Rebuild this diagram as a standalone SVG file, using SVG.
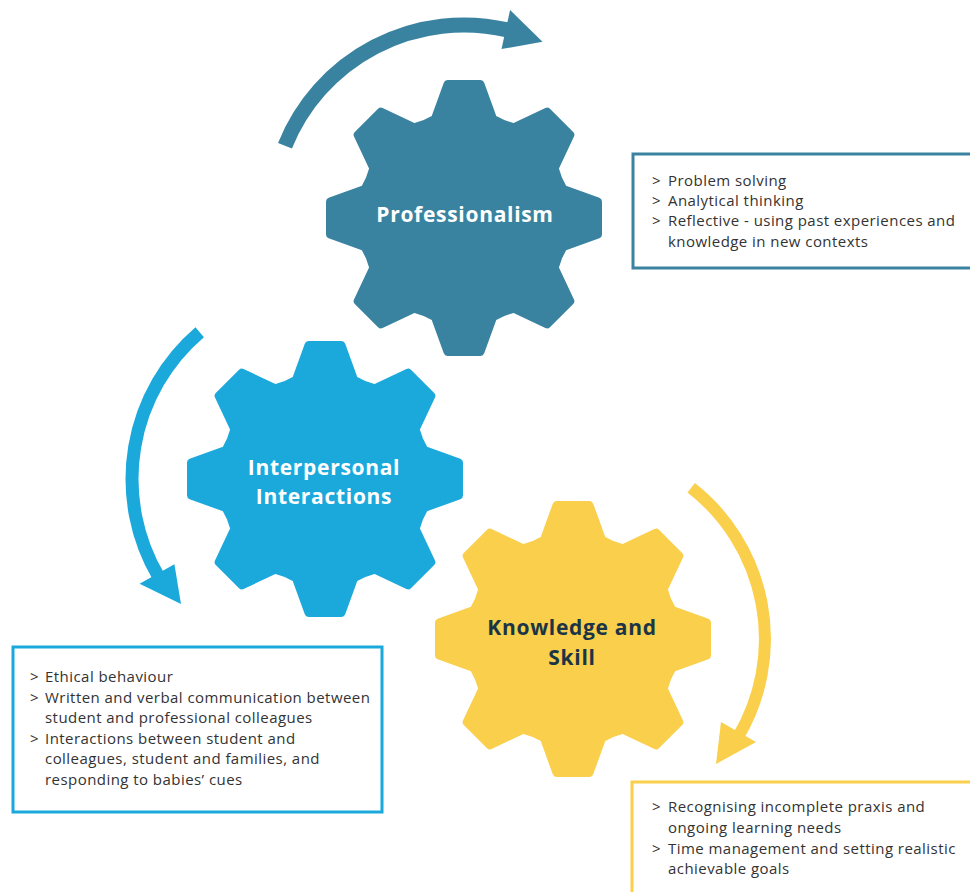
<svg xmlns="http://www.w3.org/2000/svg" xmlns:xlink="http://www.w3.org/1999/xlink" width="970" height="892" viewBox="0 0 970 892">
  <style>
    .gear { stroke-width: 8; stroke-linejoin: round; }
    .prof { fill: #3a83a0; stroke: #3a83a0; }
    .inter { fill: #1ba9dc; stroke: #1ba9dc; }
    .know { fill: #f9cf4b; stroke: #f9cf4b; }
    .label { font-family: "Open Sans", Lato, "Liberation Sans", sans-serif; font-weight: 700; font-size: 21px; letter-spacing: 0.7px; text-anchor: middle; }
    .light { fill: #ffffff; }
    .dark { fill: #1b3446; }
    .box { fill: #ffffff; stroke-width: 3; }
    .item { font-family: "Open Sans", Lato, "Liberation Sans", sans-serif; font-size: 15px; letter-spacing: 0.45px; fill: #333333; }
    .shaft { fill: none; stroke-linecap: butt; }
  </style>
  <defs>
    <!-- eight-tooth gear centred on the origin; the round-joined stroke softens the corners -->
    <path id="gear" d="M -39.03 -94.24 L -28.97 -99.30 L -16.45 -133.99 L 16.45 -133.99 L 28.97 -99.30 L 39.03 -94.24 L 49.73 -90.62 L 83.11 -106.38 L 106.38 -83.11 L 90.62 -49.73 L 94.24 -39.03 L 99.30 -28.97 L 133.99 -16.45 L 133.99 16.45 L 99.30 28.97 L 94.24 39.03 L 90.62 49.73 L 106.38 83.11 L 83.11 106.38 L 49.73 90.62 L 39.03 94.24 L 28.97 99.30 L 16.45 133.99 L -16.45 133.99 L -28.97 99.30 L -39.03 94.24 L -49.73 90.62 L -83.11 106.38 L -106.38 83.11 L -90.62 49.73 L -94.24 39.03 L -99.30 28.97 L -133.99 16.45 L -133.99 -16.45 L -99.30 -28.97 L -94.24 -39.03 L -90.62 -49.73 L -106.38 -83.11 L -83.11 -106.38 L -49.73 -90.62 Z"/>
  </defs>

  <rect x="0" y="0" width="970" height="892" fill="#ffffff"/>

  <!-- curved rotation arrows around each gear -->
  <g id="connectors">
    <path class="shaft" d="M 285.0 145.7 A 193 193 0 0 1 507.4 29.9" stroke="#3a83a0" stroke-width="15"/>
    <polygon points="542.5,41.7 510.1,10.1 501.5,49.1" fill="#3a83a0"/>

    <path class="shaft" d="M 199.7 332.2 A 193 193 0 0 0 158.7 576.9" stroke="#1ba9dc" stroke-width="13"/>
    <polygon points="181,604 139.6,583.8 174.4,564.2" fill="#1ba9dc"/>

    <path class="shaft" d="M 691.2 487.7 A 192 192 0 0 1 738.4 736.4" stroke="#f9cf4b" stroke-width="12"/>
    <polygon points="716,764 756,742 721,722" fill="#f9cf4b"/>
  </g>

  <g id="professionalism">
    <use xlink:href="#gear" href="#gear" class="gear prof" transform="translate(464,218)"/>
    <text class="label light" x="465" y="222">Professionalism</text>
  </g>

  <g id="knowledge-and-skill">
    <use xlink:href="#gear" href="#gear" class="gear know" transform="translate(573,639)"/>
    <text class="label dark" x="572" y="635">Knowledge and</text>
    <text class="label dark" x="572" y="665">Skill</text>
  </g>

  <g id="interpersonal-interactions">
    <use xlink:href="#gear" href="#gear" class="gear inter" transform="translate(325,479)"/>
    <text class="label light" x="324" y="475">Interpersonal</text>
    <text class="label light" x="324" y="504">Interactions</text>
  </g>

  <g id="professionalism-notes">
    <rect class="box" x="633" y="154" width="400" height="114" stroke="#3a83a0"/>
    <text class="item"><tspan x="652" y="186">&gt;</tspan><tspan x="668">Problem solving</tspan></text>
    <text class="item"><tspan x="652" y="206">&gt;</tspan><tspan x="668">Analytical thinking</tspan></text>
    <text class="item"><tspan x="652" y="226">&gt;</tspan><tspan x="668">Reflective - using past experiences and</tspan></text>
    <text class="item" x="668" y="247">knowledge in new contexts</text>
  </g>

  <g id="interpersonal-notes">
    <rect class="box" x="13" y="647" width="369" height="165" stroke="#1ba9dc"/>
    <text class="item"><tspan x="30" y="682">&gt;</tspan><tspan x="45">Ethical behaviour</tspan></text>
    <text class="item"><tspan x="30" y="702.6">&gt;</tspan><tspan x="45">Written and verbal communication between</tspan></text>
    <text class="item" x="45" y="723.2">student and professional colleagues</text>
    <text class="item"><tspan x="30" y="743.8">&gt;</tspan><tspan x="45">Interactions between student and</tspan></text>
    <text class="item" x="45" y="764.4">colleagues, student and families, and</text>
    <text class="item" x="45" y="785">responding to babies’ cues</text>
  </g>

  <g id="knowledge-notes">
    <rect class="box" x="632" y="782" width="400" height="200" stroke="#f9cf4b"/>
    <text class="item"><tspan x="652" y="812">&gt;</tspan><tspan x="668">Recognising incomplete praxis and</tspan></text>
    <text class="item" x="668" y="833">ongoing learning needs</text>
    <text class="item"><tspan x="652" y="854">&gt;</tspan><tspan x="668">Time management and setting realistic</tspan></text>
    <text class="item" x="668" y="874">achievable goals</text>
  </g>
</svg>
